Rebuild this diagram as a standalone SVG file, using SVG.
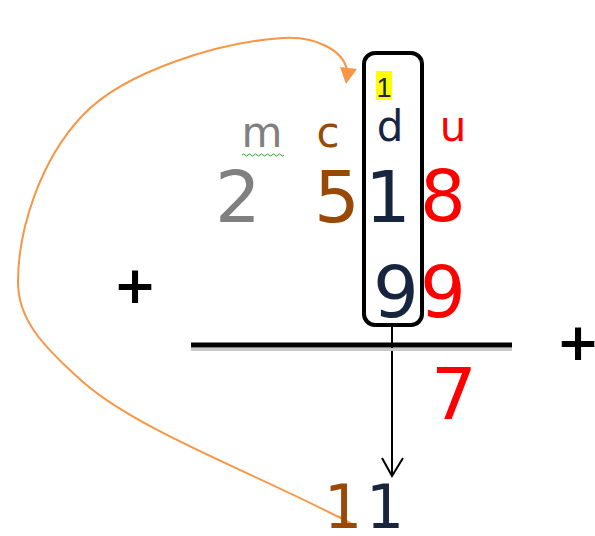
<svg xmlns="http://www.w3.org/2000/svg" width="595" height="536" viewBox="0 0 595 536">
<defs>
<style>
.dg{font-family:"DejaVu Sans",sans-serif;font-size:72px;text-anchor:middle}
.dr{font-family:"DejaVu Sans",sans-serif;font-size:60px;text-anchor:middle}
.lt{font-family:"DejaVu Sans",sans-serif;font-size:42px;text-anchor:middle}
.pl{font-family:"DejaVu Sans",sans-serif;font-size:52px;font-weight:bold;text-anchor:middle;fill:#000}
.gray{fill:#808080}.brown{fill:#984807}.navy{fill:#17253f}.red{fill:#ff0000}
</style>
</defs>
<rect width="595" height="536" fill="#fff"/>
<g id="connectors">
<path d="M350,523 C260,475 140,432 83,382 C40,344 18,318 18,282 C18,230 40,160 83,115 C125,71 220,42 283,38 C315,36 343,50 347,70" fill="none" stroke="#f79646" stroke-width="2"/>
<path d="M340,67 L357,69 L346,84 Z" fill="#f79646"/>
<path d="M338,516 L350,523 L341,525" fill="none" stroke="#f79646" stroke-width="2"/>
<line x1="392" y1="326" x2="392" y2="476" stroke="#000" stroke-width="2"/>
<path d="M382,458 L392,476 L403,458" fill="none" stroke="#000" stroke-width="2"/>
</g>
<g id="rule">
<line x1="191" y1="349.5" x2="512" y2="349.5" stroke="#c8c8c8" stroke-width="3"/>
<line x1="191" y1="345" x2="512" y2="345" stroke="#000" stroke-width="5"/>
</g>
<g id="tens-box">
<rect x="364" y="53" width="58" height="272" rx="11" fill="none" stroke="#000" stroke-width="4"/>
<rect x="376" y="71" width="16" height="29" fill="#ffff00"/>
<text x="384" y="97" font-family="Liberation Sans, sans-serif" font-size="27" text-anchor="middle" class="navy">1</text>
</g>
<g id="headers">
<text x="262" y="147" class="lt gray">m</text>
<path d="M242,155 q1.5,-2 3,0 t3,0 t3,0 t3,0 t3,0 t3,0 t3,0 t3,0 t3,0 t3,0 t3,0 t3,0 t3,0 t3,0" fill="none" stroke="#22aa22" stroke-width="1"/>
<text x="328" y="147" class="lt brown">c</text>
<text x="390" y="141" class="lt navy">d</text>
<text x="453" y="141" class="lt red">u</text>
</g>
<g id="row1">
<text x="238" y="222" class="dg gray">2</text>
<text x="337" y="222" class="dg brown">5</text>
<text x="388" y="222" class="dg navy">1</text>
<text x="443" y="221" class="dg red">8</text>
</g>
<g id="row2">
<text x="396" y="317" class="dg navy">9</text>
<text x="443" y="317" class="dg red">9</text>
</g>
<g id="result">
<text x="454" y="419" class="dg red">7</text>
<text x="343" y="528" class="dr brown">1</text>
<text x="385" y="528" class="dr navy">1</text>
</g>
<g id="plus-signs">
<text x="135" y="303" class="pl">+</text>
<text x="578" y="360" class="pl">+</text>
</g>
</svg>
